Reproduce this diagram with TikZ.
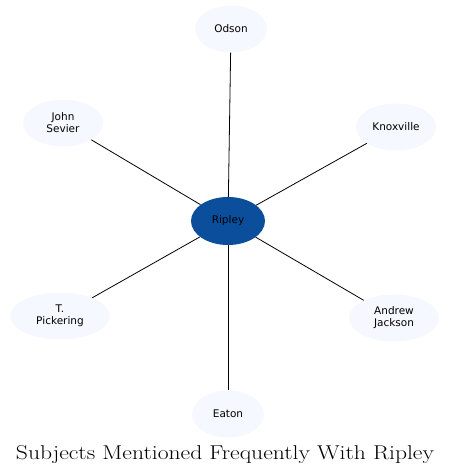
\documentclass[tikz,border=0pt]{standalone}
\usepackage{fontspec}
\newfontfamily\labelfont{DejaVu Sans}
\usetikzlibrary{shapes.geometric}
\definecolor{leaf}{HTML}{F5F8FE}
\definecolor{hub}{HTML}{0B4F9C}

\begin{document}
\begin{tikzpicture}[x=1pt,y=-1pt,
    subject/.style={ellipse, fill=leaf, inner sep=0pt, minimum height=47pt,
        font=\labelfont\fontsize{10.5}{12}\selectfont, align=center},
    link/.style={black, line width=0.8pt}]
    \useasboundingbox (0,0) rectangle (451,474);

    \node[subject, fill=hub, minimum width=74pt, minimum height=48pt] (ripley) at (228,221) {Ripley};

    \node[subject, minimum width=72pt] (odson) at (231,29) {Odson};
    \node[subject, minimum width=80pt] (sevier) at (63,123) {John\\Sevier};
    \node[subject, minimum width=80pt] (knoxville) at (396,127) {Knoxville};
    \node[subject, minimum width=100pt] (pickering) at (60,316) {T.\\Pickering};
    \node[subject, minimum width=90pt] (jackson) at (394,318) {Andrew\\Jackson};
    \node[subject, minimum width=72pt] (eaton) at (228,414) {Eaton};

    \draw[link] (ripley) -- (odson);
    \draw[link] (ripley) -- (sevier);
    \draw[link] (ripley) -- (knoxville);
    \draw[link] (ripley) -- (pickering);
    \draw[link] (ripley) -- (jackson);
    \draw[link] (ripley) -- (eaton);

    \node[font=\fontsize{20}{23}\selectfont, anchor=base] (title) at (225,459)
        {\scalebox{1.18}[1]{Subjects Mentioned Frequently With Ripley}};
\end{tikzpicture}
\end{document}
